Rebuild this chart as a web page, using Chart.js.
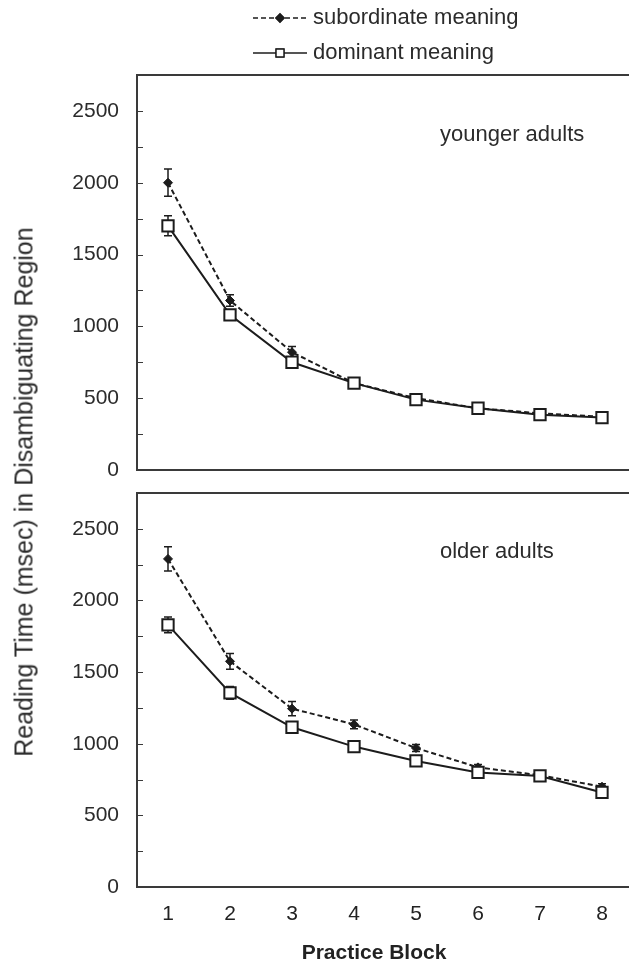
<!DOCTYPE html>
<html>
<head>
<meta charset="utf-8">
<script src="https://cdn.jsdelivr.net/npm/chart.js@4"></script>
<style>
  html, body { margin: 0; padding: 0; background: #fff; overflow: hidden; width: 629px; height: 968px; }
  .panel { position: absolute; left: 0; width: 660px; }
  #topWrap { top: 0; height: 501px; }
  #bottomWrap { top: 462px; height: 506px; }
  .ytitle {
    position: absolute; left: 24px; top: 492px;
    transform: translate(-50%, -50%) rotate(-90deg);
    white-space: nowrap; font: 25px 'Liberation Sans', Arial, sans-serif; color: #2b2b2b;
  }
  .xtitle {
    position: absolute; left: 274px; width: 200px; top: 940px; text-align: center;
    font: bold 21px 'Liberation Sans', Arial, sans-serif; color: #222;
  }
</style>
</head>
<body>
<div class="panel" id="topWrap"><canvas id="topChart"></canvas></div>
<div class="panel" id="bottomWrap"><canvas id="bottomChart"></canvas></div>
<div class="ytitle">Reading Time (msec) in Disambiguating Region</div>
<div class="xtitle">Practice Block</div>
<script>
const blocks = ['1', '2', '3', '4', '5', '6', '7', '8'];

const youngerSub = [2000, 1180, 820, 605, 500, 430, 395, 370];
const youngerSubErr = [95, 40, 40, 20, 20, 15, 20, 15];
const youngerDom = [1700, 1080, 750, 605, 490, 430, 385, 365];
const youngerDomErr = [70, 30, 25, 15, 15, 15, 15, 15];

const olderSub = [2290, 1575, 1245, 1135, 970, 835, 780, 700];
const olderSubErr = [85, 55, 50, 30, 25, 20, 20, 20];
const olderDom = [1830, 1355, 1115, 980, 880, 800, 775, 660];
const olderDomErr = [55, 45, 30, 25, 20, 20, 20, 20];

const yMax = 2750;
const yStep = 250;
const FONT = "'Liberation Sans', Arial, sans-serif";
const INK = '#1c1c1c';

// error bars, drawn under the markers
const errorBars = {
  id: 'errorBars',
  beforeDatasetsDraw(chart) {
    const ctx = chart.ctx;
    const y = chart.scales.y;
    chart.data.datasets.forEach((ds, i) => {
      if (!ds.err) return;
      const meta = chart.getDatasetMeta(i);
      ctx.save();
      ctx.strokeStyle = INK;
      ctx.lineWidth = 1.5;
      meta.data.forEach((pt, j) => {
        const top = y.getPixelForValue(ds.data[j] + ds.err[j]);
        const bot = y.getPixelForValue(ds.data[j] - ds.err[j]);
        ctx.beginPath();
        ctx.moveTo(pt.x, top); ctx.lineTo(pt.x, bot);
        ctx.moveTo(pt.x - 4, top); ctx.lineTo(pt.x + 4, top);
        ctx.moveTo(pt.x - 4, bot); ctx.lineTo(pt.x + 4, bot);
        ctx.stroke();
      });
      ctx.restore();
    });
  }
};

// box round the plot and small inner ticks on the y axis
const frame = {
  id: 'frame',
  afterDraw(chart) {
    const { ctx, chartArea: a } = chart;
    const y = chart.scales.y;
    ctx.save();
    ctx.strokeStyle = '#3a3a3a';
    ctx.lineWidth = 2;
    ctx.strokeRect(a.left, a.top, a.right - a.left, a.bottom - a.top);
    ctx.lineWidth = 1.2;
    ctx.beginPath();
    for (let v = yStep; v < yMax; v += yStep) {
      const py = Math.round(y.getPixelForValue(v)) + 0.5;
      ctx.moveTo(a.left, py);
      ctx.lineTo(a.left + 6, py);
    }
    ctx.stroke();
    ctx.restore();
  }
};

// group label inside the panel
const panelLabel = {
  id: 'panelLabel',
  afterDraw(chart, args, opts) {
    if (!opts.text) return;
    const ctx = chart.ctx;
    ctx.save();
    ctx.font = '22px ' + FONT;
    ctx.fillStyle = '#2b2b2b';
    ctx.textBaseline = 'middle';
    ctx.fillText(opts.text, opts.x, opts.y);
    ctx.restore();
  }
};

// legend above the top panel
const lineLegend = {
  id: 'lineLegend',
  afterDraw(chart, args, opts) {
    if (!opts.display) return;
    const ctx = chart.ctx;
    const items = [chart.data.datasets[1], chart.data.datasets[0]];
    items.forEach((ds, i) => {
      const cy = 18 + i * 35;
      ctx.save();
      ctx.strokeStyle = INK;
      ctx.lineWidth = 1.6;
      ctx.setLineDash(ds.borderDash || []);
      ctx.beginPath();
      ctx.moveTo(253, cy); ctx.lineTo(307, cy);
      ctx.stroke();
      ctx.setLineDash([]);
      Chart.helpers.drawPoint(ctx, {
        pointStyle: ds.pointStyle,
        radius: ds.pointStyle === 'rect' ? 5.5 : 4,
        borderWidth: 1.2
      }, 280, cy);
      ctx.fillStyle = ds.pointBackgroundColor;
      ctx.strokeStyle = INK;
      ctx.lineWidth = 1.2;
      ctx.fill();
      ctx.stroke();
      ctx.font = '22px ' + FONT;
      ctx.fillStyle = '#2b2b2b';
      ctx.textBaseline = 'middle';
      ctx.fillText(ds.label, 313, cy);
      ctx.restore();
    });
  }
};

function makeDatasets(sub, subErr, dom, domErr) {
  return [
    {
      label: 'dominant meaning',
      data: dom,
      err: domErr,
      borderColor: INK,
      borderWidth: 2,
      pointStyle: 'rect',
      pointRadius: 8,
      pointBorderWidth: 2,
      pointBorderColor: INK,
      pointBackgroundColor: '#fff',
      order: 0
    },
    {
      label: 'subordinate meaning',
      data: sub,
      err: subErr,
      borderColor: INK,
      borderWidth: 2,
      borderDash: [5, 3],
      pointStyle: 'rectRot',
      pointRadius: 4.5,
      pointBorderWidth: 1,
      pointBorderColor: INK,
      pointBackgroundColor: INK,
      order: 1
    }
  ];
}

// y tick overhang is half a label (12.6) + tick padding (18), so outer paddings of 31 keep the plot box where set
function makeChart(canvasId, datasets, showX, padTop, padBottom, label) {
  return new Chart(document.getElementById(canvasId), {
    type: 'line',
    data: { labels: blocks, datasets },
    options: {
      responsive: true,
      maintainAspectRatio: false,
      animation: false,
      events: [],
      layout: { padding: { top: padTop, bottom: padBottom, left: 0, right: 27 } },
      scales: {
        x: {
          type: 'category',
          offset: true,
          display: showX,
          grid: { display: false, drawTicks: false },
          border: { display: false },
          ticks: { color: '#222', padding: 15, font: { family: FONT, size: 21 } },
          afterFit(scale) { scale.height = showX ? 81 : 0; }
        },
        y: {
          min: 0,
          max: yMax,
          grid: { display: false, drawTicks: false },
          border: { display: false },
          ticks: {
            stepSize: yStep,
            padding: 18,
            color: '#2b2b2b',
            font: { family: FONT, size: 21 },
            callback: v => (v % 500 === 0 ? String(v) : '')
          },
          afterFit(scale) { scale.width = 137; }
        }
      },
      plugins: {
        legend: { display: false },
        tooltip: { enabled: false },
        panelLabel: label,
        lineLegend: { display: canvasId === 'topChart' }
      }
    },
    plugins: [errorBars, frame, panelLabel, lineLegend]
  });
}

makeChart('topChart', makeDatasets(youngerSub, youngerSubErr, youngerDom, youngerDomErr),
  false, 75, 31, { text: 'younger adults', x: 440, y: 135 });
makeChart('bottomChart', makeDatasets(olderSub, olderSubErr, olderDom, olderDomErr),
  true, 31, 0, { text: 'older adults', x: 440, y: 90 });
</script>
</body>
</html>
